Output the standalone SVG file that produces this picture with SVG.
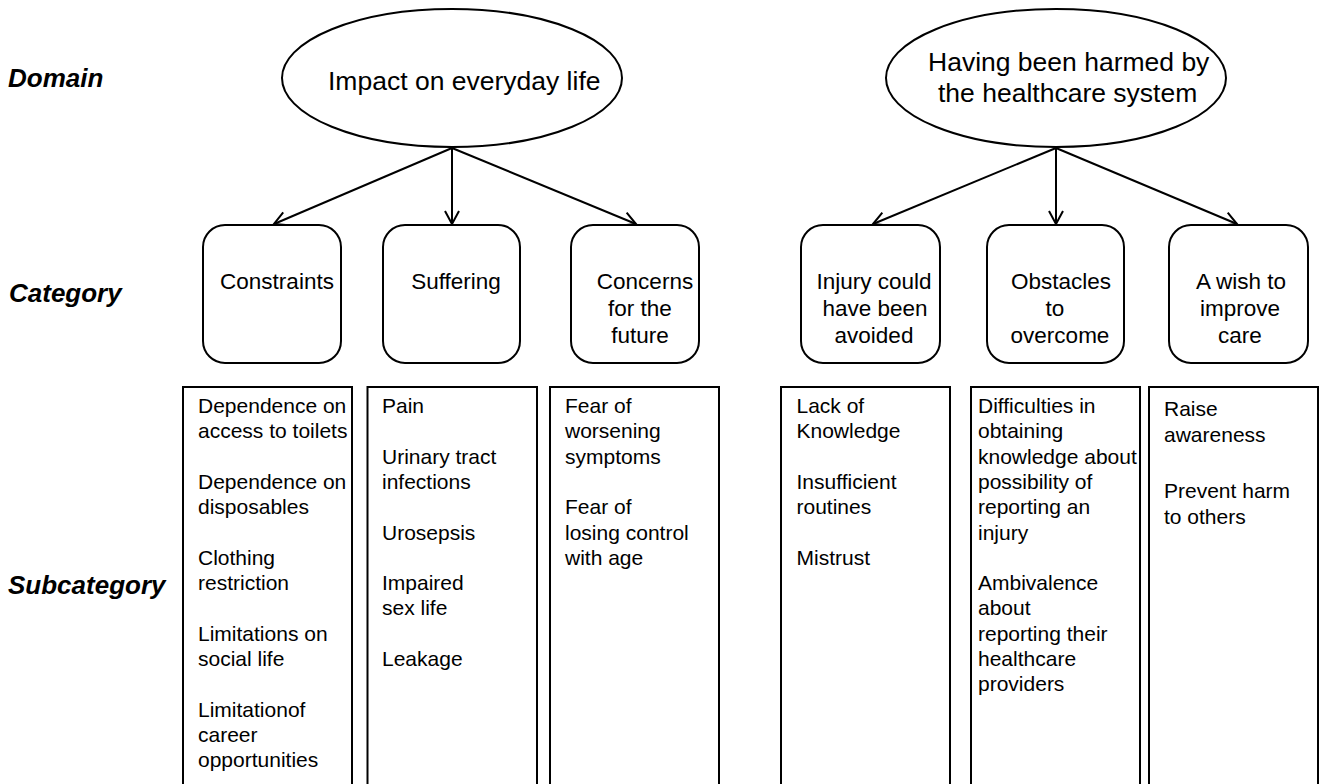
<svg xmlns="http://www.w3.org/2000/svg" width="1323" height="784" viewBox="0 0 1323 784">
<style>
.lbl{font-family:"Liberation Sans",Arial,sans-serif;font-size:26px;font-weight:bold;font-style:italic;fill:#000}
.dom{font-family:"Liberation Sans",Arial,sans-serif;font-size:26.5px;fill:#000}
.cat{font-family:"Liberation Sans",Arial,sans-serif;font-size:22.5px;fill:#000;text-anchor:middle}
.sub{font-family:"Liberation Sans",Arial,sans-serif;font-size:21px;fill:#000}
.shape{fill:#fff;stroke:#000;stroke-width:2}
.conn{stroke:#000;stroke-width:2;fill:none}
</style>
<defs>
<marker id="arr" viewBox="-15 -9 17 18" refX="0" refY="0" markerWidth="17" markerHeight="18" markerUnits="userSpaceOnUse" orient="auto">
<path d="M-13,-7 L0,0 L-13,7" fill="none" stroke="#000" stroke-width="2"/>
</marker>
</defs>
<rect width="1323" height="784" fill="#fff"/>
<g id="row-labels">
<text class="lbl" x="8" y="87">Domain</text>
<text class="lbl" x="9" y="302">Category</text>
<text class="lbl" x="8" y="594">Subcategory</text>
</g>
<g id="connectors">
<line class="conn" x1="452" y1="148" x2="274" y2="224" marker-end="url(#arr)"/>
<line class="conn" x1="452" y1="148" x2="452" y2="224" marker-end="url(#arr)"/>
<line class="conn" x1="452" y1="148" x2="636" y2="224" marker-end="url(#arr)"/>
<line class="conn" x1="1056" y1="148" x2="873" y2="224" marker-end="url(#arr)"/>
<line class="conn" x1="1056" y1="148" x2="1056" y2="224" marker-end="url(#arr)"/>
<line class="conn" x1="1056" y1="148" x2="1237" y2="224" marker-end="url(#arr)"/>
</g>
<g id="domain-impact">
<ellipse class="shape" cx="452" cy="78" rx="170" ry="69"/>
<text class="dom" x="328" y="90">Impact on everyday life</text>
</g>
<g id="domain-harmed">
<ellipse class="shape" cx="1056" cy="78" rx="170" ry="69"/>
<text class="dom" x="928" y="71">Having been harmed by</text>
<text class="dom" x="938" y="102">the healthcare system</text>
</g>
<g id="cat-constraints">
<rect class="shape" x="203" y="225" width="138" height="138" rx="22" ry="22"/>
<text class="cat" x="277" y="289">Constraints</text>
</g>
<g id="cat-suffering">
<rect class="shape" x="383" y="225" width="137" height="138" rx="22" ry="22"/>
<text class="cat" x="456" y="289">Suffering</text>
</g>
<g id="cat-concerns">
<rect class="shape" x="571" y="225" width="128" height="138" rx="22" ry="22"/>
<text class="cat" x="645" y="289">Concerns</text>
<text class="cat" x="640" y="316">for the</text>
<text class="cat" x="640" y="343">future</text>
</g>
<g id="cat-injury">
<rect class="shape" x="801" y="225" width="139" height="138" rx="22" ry="22"/>
<text class="cat" x="874" y="289">Injury could</text>
<text class="cat" x="875" y="316">have been</text>
<text class="cat" x="874" y="343">avoided</text>
</g>
<g id="cat-obstacles">
<rect class="shape" x="987" y="225" width="137" height="138" rx="22" ry="22"/>
<text class="cat" x="1061" y="289">Obstacles</text>
<text class="cat" x="1055" y="316">to</text>
<text class="cat" x="1060" y="343">overcome</text>
</g>
<g id="cat-wish">
<rect class="shape" x="1169" y="225" width="139" height="138" rx="22" ry="22"/>
<text class="cat" x="1241" y="289">A wish to</text>
<text class="cat" x="1240" y="316">improve</text>
<text class="cat" x="1240" y="343">care</text>
</g>
<g id="sub-constraints">
<rect class="shape" x="183" y="387" width="169" height="420"/>
<text class="sub" x="198" y="413">Dependence on</text>
<text class="sub" x="198" y="438.3">access to toilets</text>
<text class="sub" x="198" y="488.9">Dependence on</text>
<text class="sub" x="198" y="514.2">disposables</text>
<text class="sub" x="198" y="564.8">Clothing</text>
<text class="sub" x="198" y="590.1">restriction</text>
<text class="sub" x="198" y="640.7">Limitations on</text>
<text class="sub" x="198" y="666">social life</text>
<text class="sub" x="198" y="716.6">Limitationof</text>
<text class="sub" x="198" y="741.9">career</text>
<text class="sub" x="198" y="767.2">opportunities</text>
</g>
<g id="sub-suffering">
<rect class="shape" x="367.5" y="387" width="169.5" height="420"/>
<text class="sub" x="382" y="413">Pain</text>
<text class="sub" x="382" y="463.6">Urinary tract</text>
<text class="sub" x="382" y="488.9">infections</text>
<text class="sub" x="382" y="539.5">Urosepsis</text>
<text class="sub" x="382" y="590.1">Impaired</text>
<text class="sub" x="382" y="615.4">sex life</text>
<text class="sub" x="382" y="666">Leakage</text>
</g>
<g id="sub-concerns">
<rect class="shape" x="550" y="387" width="169" height="420"/>
<text class="sub" x="565" y="413">Fear of</text>
<text class="sub" x="565" y="438.3">worsening</text>
<text class="sub" x="565" y="463.6">symptoms</text>
<text class="sub" x="565" y="514.2">Fear of</text>
<text class="sub" x="565" y="539.5">losing control</text>
<text class="sub" x="565" y="564.8">with age</text>
</g>
<g id="sub-injury">
<rect class="shape" x="781" y="387" width="169" height="420"/>
<text class="sub" x="796.5" y="413">Lack of</text>
<text class="sub" x="796.5" y="438.3">Knowledge</text>
<text class="sub" x="796.5" y="488.9">Insufficient</text>
<text class="sub" x="796.5" y="514.2">routines</text>
<text class="sub" x="796.5" y="564.8">Mistrust</text>
</g>
<g id="sub-obstacles">
<rect class="shape" x="971" y="387" width="169" height="420"/>
<text class="sub" x="978" y="413">Difficulties in</text>
<text class="sub" x="978" y="438.3">obtaining</text>
<text class="sub" x="978" y="463.6">knowledge about</text>
<text class="sub" x="978" y="488.9">possibility of</text>
<text class="sub" x="978" y="514.2">reporting an</text>
<text class="sub" x="978" y="539.5">injury</text>
<text class="sub" x="978" y="590.1">Ambivalence</text>
<text class="sub" x="978" y="615.4">about</text>
<text class="sub" x="978" y="640.7">reporting their</text>
<text class="sub" x="978" y="666">healthcare</text>
<text class="sub" x="978" y="691.3">providers</text>
</g>
<g id="sub-wish">
<rect class="shape" x="1149" y="387" width="169" height="420"/>
<text class="sub" x="1164" y="416">Raise</text>
<text class="sub" x="1164" y="441.5">awareness</text>
<text class="sub" x="1164" y="498">Prevent harm</text>
<text class="sub" x="1164" y="523.5">to others</text>
</g>
</svg>
